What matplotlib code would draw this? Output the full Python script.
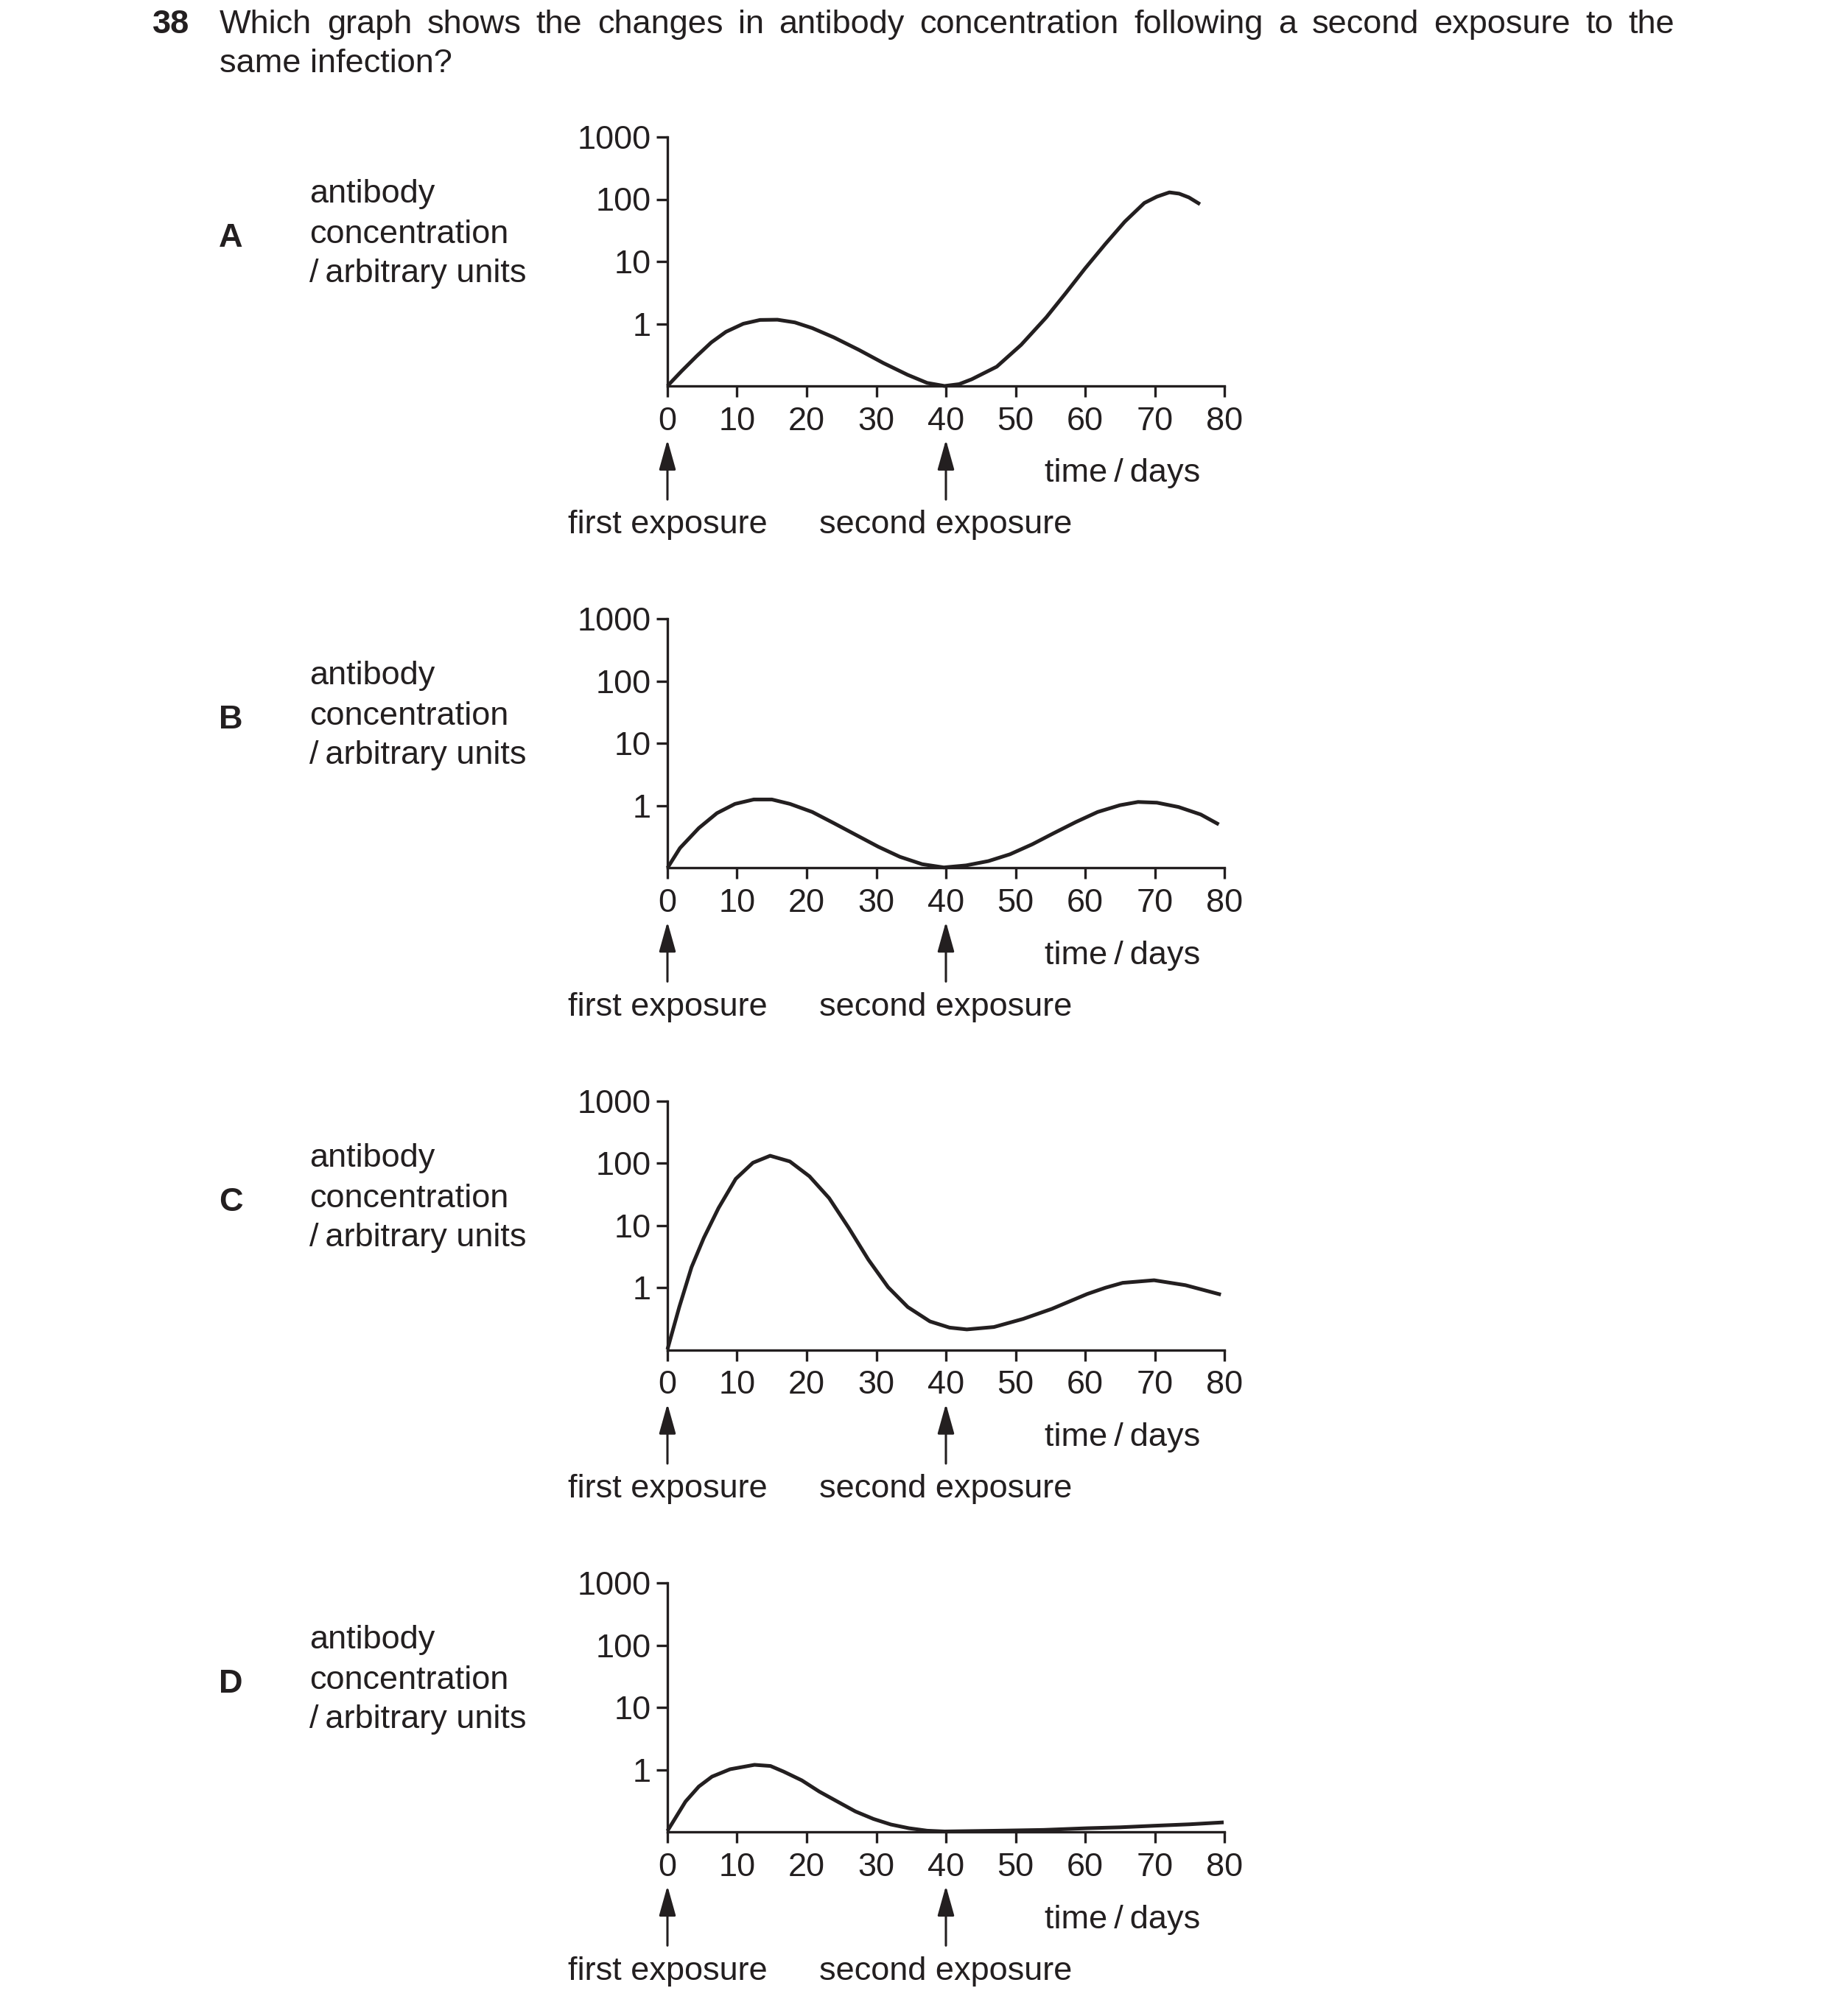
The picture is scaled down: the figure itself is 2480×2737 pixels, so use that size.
import matplotlib
matplotlib.use("Agg")
import matplotlib.pyplot as plt
from matplotlib.ticker import FixedLocator, NullLocator

plt.rcParams['font.family'] = ['Liberation Sans', 'DejaVu Sans']

# values (time in days, concentration in arbitrary units)
days_a = [0, 2.05, 4.2, 6.3, 8.4, 10.9, 13.3, 15.8, 18.3, 20.8, 23.9, 27.5, 31.0, 34.5,
          37.3, 39.8, 41.9, 43.7, 47.3, 50.8, 54.4, 57.2, 60.0, 62.9, 65.7, 68.5, 70.3,
          72.1, 73.5, 74.9, 76.5]
conc_a = [0.1, 0.174, 0.302, 0.501, 0.741, 1.0, 1.15, 1.16, 1.05, 0.851, 0.603, 0.380,
          0.234, 0.151, 0.112, 0.100, 0.107, 0.128, 0.204, 0.457, 1.26, 3.09, 7.76, 19.1,
          43.7, 87.1, 110, 129, 123, 107, 83.2]

days_b = [0, 1.8, 4.5, 7.1, 9.7, 12.4, 15.0, 17.6, 20.8, 23.9, 27.1, 30.3, 33.4, 36.6,
          39.7, 42.9, 46.1, 49.2, 52.4, 55.5, 58.7, 61.8, 65.0, 67.6, 70.3, 73.4, 76.6, 79.2]
conc_b = [0.1, 0.209, 0.437, 0.759, 1.07, 1.26, 1.26, 1.07, 0.794, 0.525, 0.339, 0.219,
          0.151, 0.115, 0.102, 0.110, 0.129, 0.166, 0.240, 0.363, 0.550, 0.794, 1.02, 1.15,
          1.12, 0.955, 0.724, 0.501]

days_c = [0, 1.7, 3.46, 5.22, 7.34, 9.81, 12.28, 14.75, 17.58, 20.40, 23.23, 26.05, 28.87,
          31.70, 34.52, 37.70, 40.52, 43.0, 46.9, 51.1, 55.2, 60.3, 62.9, 65.4, 69.9, 74.4, 79.5]
conc_c = [0.102, 0.49, 2.14, 6.31, 19.1, 56.2, 102, 132, 107, 61.7, 27.5, 9.12, 2.82,
          1.02, 0.49, 0.288, 0.229, 0.214, 0.234, 0.316, 0.457, 0.794, 1.0, 1.20, 1.32, 1.10,
          0.776]

days_d = [0, 2.6, 4.5, 6.4, 9.0, 12.5, 14.8, 16.7, 19.3, 21.8, 24.4, 27.0, 29.6, 32.1,
          34.7, 37.3, 39.8, 47.5, 54, 60.3, 65, 69.9, 75, 79.9]
conc_d = [0.104, 0.309, 0.537, 0.776, 1.02, 1.20, 1.15, 0.933, 0.676, 0.447, 0.309, 0.214,
          0.162, 0.132, 0.115, 0.105, 0.102, 0.105, 0.108, 0.115, 0.119, 0.126, 0.133, 0.143]

panels = ['A', 'B', 'C', 'D']
series = [(days_a, conc_a), (days_b, conc_b), (days_c, conc_c), (days_d, conc_d)]

x_ticks = [0, 10, 20, 30, 40, 50, 60, 70, 80]
y_ticks = [1, 10, 100, 1000]
y_labels = ['1', '10', '100', '1000']
exposures = [0, 40]
exposure_labels = ['first exposure', 'second exposure']

question_no = '38'
question_1 = 'Which graph shows the changes in antibody concentration following a second exposure to the'
question_2 = 'same infection?'
ylabel_lines = ['antibody', 'concentration', '/\u2009arbitrary units']
xlabel = 'time\u2009/\u2009days'

W, H = 2480, 2737
ink = '#231f20'
fs = 32.5

fig = plt.figure(figsize=(W / 100, H / 100), dpi=100)


def fx(px):
    return px / W


def fy(py):
    return 1 - py / H


# question text, first line justified to the right margin
fig.text(fx(207), fy(45), question_no, fontsize=fs, fontweight='bold', color=ink, va='baseline')
renderer = fig.canvas.get_renderer()
words = question_1.split()
items = [fig.text(0, fy(45), w, fontsize=fs, color=ink, va='baseline') for w in words]
widths = [t.get_window_extent(renderer).width for t in items]
left, right = 298, 2273
gap = (right - left - sum(widths)) / (len(words) - 1)
pos = left
for t, w in zip(items, widths):
    t.set_x(fx(pos))
    pos += w + gap
fig.text(fx(298), fy(98), question_2, fontsize=fs, color=ink, va='baseline')

step = 654.4
for k, (letter, (xs, ys)) in enumerate(zip(panels, series)):
    dy = k * step
    top, bottom = 186 + dy, 524 + dy
    ax = fig.add_axes([fx(906), fy(bottom), fx(1662) - fx(906), (bottom - top) / H])
    ax.plot(xs, ys, color=ink, lw=3.6, clip_on=False, solid_joinstyle='round',
            solid_capstyle='butt')
    ax.set_yscale('log')
    ax.set_xlim(0, 80)
    ax.set_ylim(0.1, 1000)
    ax.yaxis.set_major_locator(FixedLocator(y_ticks))
    ax.yaxis.set_minor_locator(NullLocator())
    ax.set_yticklabels(y_labels)
    ax.set_xticks(x_ticks)
    ax.set_xticklabels([str(v) for v in x_ticks])
    for s in ['top', 'right']:
        ax.spines[s].set_visible(False)
    for s in ['left', 'bottom']:
        ax.spines[s].set_linewidth(2.4)
        ax.spines[s].set_color(ink)
    ax.tick_params(axis='both', direction='out', length=10.8, width=2.4, color=ink,
                   labelsize=fs, labelcolor=ink)
    ax.tick_params(axis='y', pad=5.5)
    ax.tick_params(axis='x', pad=9)
    ax.patch.set_visible(False)

    trans = ax.get_xaxis_transform()
    for xe, lab in zip(exposures, exposure_labels):
        ax.annotate('', xy=(xe, -0.216), xytext=(xe, -0.456), xycoords=trans, textcoords=trans,
                    arrowprops=dict(arrowstyle='-|>,head_length=2.5,head_width=0.7',
                                    mutation_scale=10, lw=2.2, color=ink,
                                    shrinkA=0, shrinkB=0), annotation_clip=False)
        ax.text(xe, -0.559, lab, transform=trans, ha='center', va='center',
                fontsize=fs, color=ink)
    ax.text(65.4, -0.352, xlabel, transform=trans, ha='center', va='center',
            fontsize=fs, color=ink)

    fig.text(fx(297), fy(335 + dy), letter, fontsize=fs, fontweight='bold', color=ink,
             va='baseline')
    for line, base in zip(ylabel_lines, [275, 330, 383]):
        fig.text(fx(420), fy(base + dy), line, fontsize=fs, color=ink, va='baseline')

fig.savefig('out.png', dpi=100, facecolor='white')
